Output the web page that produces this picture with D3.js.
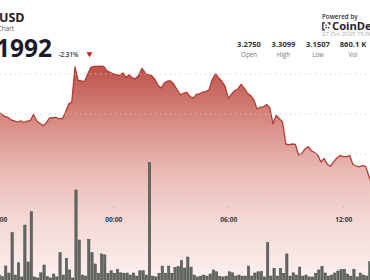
<!DOCTYPE html>
<html><head><meta charset="utf-8">
<script src="https://cdn.jsdelivr.net/npm/d3@7/dist/d3.min.js"></script>
<style>
html,body{margin:0;padding:0;background:#fff;overflow:hidden;}
svg{display:block;font-family:"Open Sans",Lato,sans-serif;}
</style></head><body>
<script>
// ---- data (10-minute steps starting 2025-10-26 18:00) ----
const startTime = "2025-10-26T18:00:00";
const stepMinutes = 10;
const prices = [
3.2525,3.2500,3.2471,3.2458,3.2425,3.2415,3.2400,3.2413,3.2394,3.2410,
3.2416,3.2494,3.2413,3.2385,3.2353,3.2388,3.2450,3.2450,3.2459,3.2441,
3.2438,3.2519,3.2623,3.2650,3.3088,3.2919,3.2913,3.2906,3.3000,3.3084,
3.3095,3.3095,3.3099,3.3094,3.3038,3.3021,3.3000,3.2993,3.2981,3.3013,
3.2959,3.2989,3.2950,3.2943,3.2988,3.3071,3.3010,3.2988,3.2980,3.2934,
3.2860,3.2823,3.2891,3.2913,3.2913,3.2869,3.2803,3.2738,3.2760,3.2769,
3.2719,3.2698,3.2746,3.2750,3.2773,3.2779,3.2806,3.2931,3.3006,3.2949,
3.2909,3.2846,3.2696,3.2749,3.2791,3.2813,3.2870,3.2823,3.2759,3.2731,
3.2675,3.2563,3.2585,3.2590,3.2618,3.2578,3.2378,3.2481,3.2440,3.2400,
3.2125,3.2115,3.2125,3.2121,3.1988,3.2006,3.2063,3.2091,3.2041,3.2018,
3.1988,3.1900,3.1944,3.1871,3.1846,3.1904,3.1950,3.1980,3.1968,3.1968,
3.1981,3.1869,3.1850,3.1838,3.1856,3.1844,3.1725,3.1613];
const volumes = [ // thousands
3.0,2.1,7.3,3.9,23.6,2.9,8.9,2.0,27.3,9.3,
33.8,2.0,1.5,4.0,7.8,2.1,1.5,3.4,2.0,13.8,
2.9,11.1,5.4,1.5,44.4,20.0,2.9,2.4,20.3,13.8,
8.3,3.8,13.2,12.7,3.8,5.0,3.8,5.7,4.0,3.8,
3.9,2.9,3.9,2.4,5.0,5.0,2.9,57.7,2.4,2.0,
3.8,7.3,3.8,7.3,3.8,6.7,7.0,9.9,6.3,11.7,
6.8,2.9,2.0,2.4,2.9,2.4,3.4,5.4,4.5,2.1,
2.0,2.4,4.5,4.0,2.4,2.9,2.4,2.4,7.3,2.4,
3.9,4.5,4.6,2.0,18.7,2.4,6.2,2.4,6.2,3.8,
13.2,2.4,4.0,2.9,6.8,2.4,2.9,2.0,2.0,3.8,
5.4,7.1,3.9,2.4,2.9,3.9,4.9,5.6,5.7,3.4,
2.4,5.7,2.0,3.9,2.9,2.4,9.4,5.4];
const timeTicks = ["2025-10-26T18:00:00","2025-10-27T00:00:00","2025-10-27T06:00:00","2025-10-27T12:00:00"];
const priceGrid = [3.30, 3.25, 3.20];
const volumeGrid = [20, 40];
const statValues = ["3.2750","3.3099","3.1507","860.1 K"];
const statLabels = ["Open","High","Low","Vol"];
const lastPrice = "3.1992";
const changePct = "-2.31%";
const pairLabel = "USD";
const subLabel = "Chart";
const dateLabel = "27 Oct 2025 15:00";

const W = 370, H = 280;
const svg = d3.select("body").append("svg").attr("width", W).attr("height", H);

const t0 = new Date(startTime);
const data = prices.map((p, i) => ({
  t: d3.timeMinute.offset(t0, i * stepMinutes), p, v: volumes[i]
}));

const x = d3.scaleTime()
  .domain([new Date("2025-10-27T00:00:00"), new Date("2025-10-27T12:00:00")])
  .range([113.3, 343.3]);
const y = d3.scaleLinear().domain([3.20, 3.30]).range([154, 74]);
const yv = d3.scaleLinear().domain([0, 60]).range([281, 158]);

// gradient
const defs = svg.append("defs");
const grad = defs.append("linearGradient").attr("id","ag")
  .attr("gradientUnits","userSpaceOnUse").attr("x1",0).attr("x2",0).attr("y1",64).attr("y2",282);
[[0,"#bd4f47"],[0.29,"#da918a"],[0.49,"#eab9b4"],[0.72,"#f4d9d6"],[1,"#fbf1f0"]]
  .forEach(([o,c]) => grad.append("stop").attr("offset",o).attr("stop-color",c));

const area = d3.area().x(d => x(d.t)).y0(H + 5).y1(d => y(d.p));
const line = d3.line().x(d => x(d.t)).y(d => y(d.p));
svg.append("path").datum(data).attr("d", area).attr("fill","url(#ag)");
svg.append("path").datum(data).attr("d", line).attr("fill","none")
  .attr("stroke","#b23c34").attr("stroke-width",1.3).attr("stroke-linejoin","round");

// gridlines
const gridYs = priceGrid.map(y).concat(volumeGrid.map(yv));
svg.append("g").selectAll("line").data(gridYs).join("line")
  .attr("x1",0).attr("x2",W).attr("y1",d=>d).attr("y2",d=>d)
  .attr("stroke","#cfcfcf").attr("stroke-width",1).attr("stroke-dasharray","1.2,3.8");

// volume bars
const step = x(d3.timeMinute.offset(t0, stepMinutes)) - x(t0);
svg.append("g").selectAll("rect").data(data).join("rect")
  .attr("x", d => x(d.t) - 0.1).attr("width", step * 0.72)
  .attr("y", d => yv(d.v)).attr("height", d => yv(0) - yv(d.v) + 5)
  .attr("fill","#646a63").attr("stroke","#3d413d").attr("stroke-width",0.5);

// time axis
const ax = svg.append("g").attr("transform","translate(0,206)")
  .call(d3.axisBottom(x).tickValues(timeTicks.map(s => new Date(s)))
    .tickFormat(d3.timeFormat("%H:%M")).tickSize(2.5).tickPadding(8.5));
ax.select(".domain").remove();
ax.selectAll(".tick line").attr("stroke","#bbbbbb");
ax.selectAll(".tick text").attr("fill","#3a3a3a").attr("font-size",6.6)
  .attr("font-weight",700).attr("font-family","'Open Sans',sans-serif");

// header left
svg.append("text").attr("x",-1).attr("y",22).text(pairLabel)
  .attr("font-size",12.5).attr("font-weight",700).attr("fill","#1c1c2c");
svg.append("text").attr("x",14).attr("y",31).attr("text-anchor","end").text(subLabel)
  .attr("font-size",6.3).attr("fill","#555");
svg.append("text").attr("x",52).attr("y",57).attr("text-anchor","end").text(lastPrice)
  .attr("font-size",24.5).attr("font-weight",700).attr("fill","#1b1b2b");
svg.append("text").attr("x",58.5).attr("y",56.5).text(changePct)
  .attr("font-size",6.3).attr("font-weight",600).attr("fill","#333");
svg.append("path").attr("d","M86.5,52.3 L92.5,52.3 L89.5,57.3 Z").attr("fill","#b8241c");

// header right
svg.append("text").attr("x",322).attr("y",19).text("Powered by")
  .attr("font-size",6.3).attr("font-weight",600).attr("fill","#333");
const logo = svg.append("g").attr("fill","none").attr("stroke","#1f2233").attr("stroke-width",1.3);
logo.append("path").attr("d","M325,22.8 L322.8,22.8 L322.8,29.8 L325,29.8");
logo.append("path").attr("d","M327.6,22.8 L329.8,22.8 L329.8,25");
svg.append("rect").attr("x",325.5).attr("y",24.6).attr("width",1.3).attr("height",1.3).attr("fill","#1f2233");
svg.append("rect").attr("x",325.5).attr("y",27).attr("width",1.3).attr("height",1.3).attr("fill","#1f2233");
svg.append("rect").attr("x",327.9).attr("y",27).attr("width",1.3).attr("height",1.3).attr("fill","#1f2233");
svg.append("text").attr("x",332).attr("y",30).text("CoinDesk")
  .attr("font-size",11.2).attr("font-weight",700).attr("fill","#1f2233");
svg.append("text").attr("x",322).attr("y",35.5).text(dateLabel)
  .attr("font-size",6).attr("fill","#aaaaaa");

const statX = [249, 283.5, 318, 353];
svg.append("g").selectAll("text").data(statValues).join("text")
  .attr("x",(d,i)=>statX[i]).attr("y",46.8).attr("text-anchor","middle").text(d=>d)
  .attr("font-size",7.6).attr("font-weight",700).attr("fill","#333");
svg.append("g").selectAll("text").data(statLabels).join("text")
  .attr("x",(d,i)=>statX[i]).attr("y",56.6).attr("text-anchor","middle").text(d=>d)
  .attr("font-size",6.2).attr("fill","#777");
</script>
</body></html>
